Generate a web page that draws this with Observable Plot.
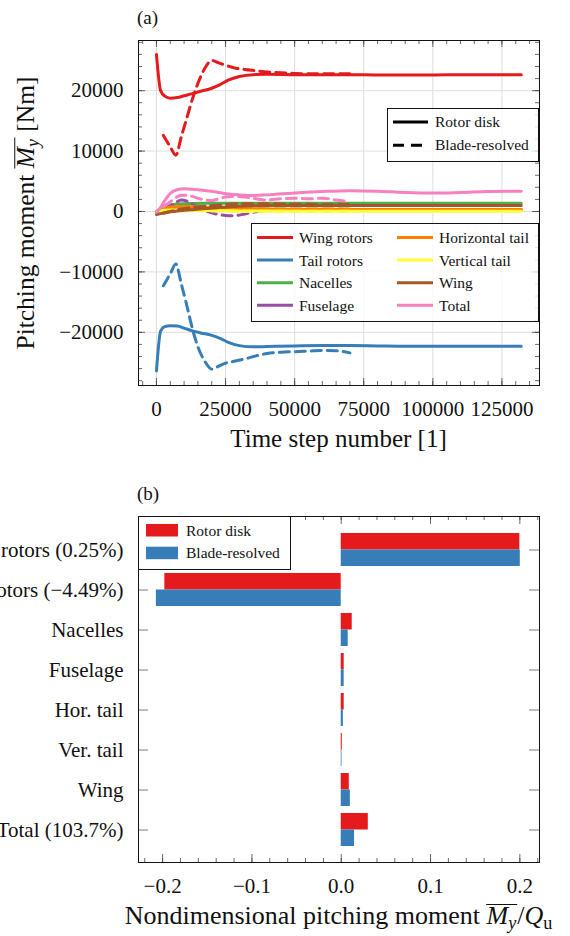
<!DOCTYPE html>
<html>
<head>
<meta charset="utf-8">
<script src="https://cdn.jsdelivr.net/npm/d3@7"></script>
<script src="https://cdn.jsdelivr.net/npm/@observablehq/plot@0.6"></script>
<style>
  html, body { margin: 0; padding: 0; background: #fff; }
  #fig { position: relative; width: 570px; height: 936px; overflow: hidden;
         font-family: "Liberation Serif", "Times New Roman", serif; color: #111; }
  #fig > svg { position: absolute; left: 0; }
  .lbl { position: absolute; white-space: nowrap; line-height: 1; }
  .ov { display: inline-block; border-top: 1.4px solid currentColor; line-height: 0.84; padding-right: 1px; }
  .sb { font-size: 0.7em; position: relative; top: 0.3em; }
</style>
</head>
<body>
<div id="fig"></div>
<script>
// ---------- (a) pitching moment history ----------
const components = ["Wing rotors", "Tail rotors", "Nacelles", "Fuselage",
                    "Horizontal tail", "Vertical tail", "Wing", "Total"];
const componentColors = ["#e41a1c", "#377eb8", "#4daf4a", "#984ea3",
                         "#ff7f00", "#ffff33", "#a65628", "#f781bf"];

// rotor disk runs
const stepsRD = [0, 1500, 3000, 5000, 7500, 10000, 13000, 16000, 20000, 23000, 26000, 30000,
                 35000, 40000, 50000, 60000, 70000, 80000, 90000, 100000, 110000, 120000, 132000];
const wingRotorsRD = [26000, 20000, 19100, 18750, 18850, 19150, 19500, 19900, 20400, 21000, 21750, 22350,
                      22650, 22700, 22650, 22650, 22650, 22600, 22600, 22600, 22650, 22650, 22650];
const tailRotorsRD = [-26400, -19800, -19050, -18900, -18950, -19300, -19750, -20100, -20500, -21000, -21650, -22200,
                      -22400, -22350, -22250, -22200, -22200, -22250, -22300, -22300, -22300, -22300, -22300];
const nacellesRD = [0, 450, 850, 1100, 1250, 1300, 1330, 1350, 1350, 1350, 1350, 1350,
                    1350, 1350, 1360, 1370, 1370, 1370, 1370, 1370, 1370, 1370, 1370];
const fuselageRD = [0, 150, 250, 300, 350, 380, 400, 400, 390, 380, 370, 360,
                    350, 350, 350, 350, 350, 350, 350, 350, 350, 350, 350];
const horTailRD = [0, 300, 550, 700, 780, 800, 780, 740, 680, 620, 560, 500,
                   440, 400, 370, 360, 350, 350, 350, 350, 350, 350, 350];
const verTailRD = [0, 120, 200, 240, 250, 240, 220, 190, 160, 130, 110, 90,
                   80, 70, 60, 60, 60, 60, 60, 60, 60, 60, 60];
const wingRD = [-500, -350, -200, -50, 100, 200, 300, 400, 550, 650, 750, 850,
                930, 980, 1000, 1010, 1010, 1010, 1010, 1010, 1010, 1010, 1010];
const totalRD = [-100, 700, 1800, 3000, 3600, 3750, 3700, 3550, 3350, 3100, 2900, 2750,
                 2650, 2750, 3050, 3300, 3450, 3350, 3150, 3050, 3150, 3300, 3350];

// blade-resolved runs
const stepsBR = [2500, 5000, 7000, 9000, 11000, 13000, 15000, 17500, 20000, 22500, 25000,
                 28000, 32000, 36000, 40000, 45000, 50000, 55000, 60000, 65000, 70000];
const wingRotorsBR = [12600, 10700, 9300, 12400, 15500, 18600, 21200, 23700, 25000, 24600, 24200,
                      23800, 23500, 23300, 23100, 22950, 22850, 22800, 22800, 22800, 22800];
const tailRotorsBR = [-12300, -10300, -8700, -12000, -15600, -19400, -22400, -24800, -26100, -25600, -25100,
                      -24800, -24400, -23900, -23500, -23300, -23200, -23100, -23000, -23050, -23400];
const nacellesBR = [300, 600, 800, 850, 880, 900, 900, 900, 900, 900, 900,
                    900, 900, 900, 900, 900, 900, 900, 900, 900, 900];
const fuselageBR = [400, 900, 1500, 1900, 1700, 1200, 700, 200, -200, -500, -650,
                    -700, -400, -50, 100, 200, 250, 300, 300, 300, 300];
const horTailBR = [300, 600, 750, 800, 780, 720, 650, 580, 500, 450, 400,
                   340, 300, 270, 250, 240, 230, 230, 230, 230, 230];
const verTailBR = [100, 150, 150, 140, 130, 120, 110, 100, 90, 80, 70,
                   60, 60, 60, 60, 60, 60, 60, 60, 60, 60];
const wingBR = [-300, 0, 250, 400, 550, 650, 750, 850, 950, 1050, 1150,
                1250, 1300, 1300, 1300, 1250, 1200, 1200, 1150, 1150, 1150];
const totalBR = [800, 1600, 2300, 2700, 2700, 2500, 2200, 1900, 1800, 2100, 2400,
                 2500, 2400, 2100, 1900, 2100, 2200, 2100, 2200, 1900, 1600];

const seriesRD = [wingRotorsRD, tailRotorsRD, nacellesRD, fuselageRD, horTailRD, verTailRD, wingRD, totalRD];
const seriesBR = [wingRotorsBR, tailRotorsBR, nacellesBR, fuselageBR, horTailBR, verTailBR, wingBR, totalBR];

const stepTicks = [0, 25000, 50000, 75000, 100000, 125000];
const stepMinorTicks = d3.range(-5000, 138001, 5000);
const momentTicks = [-20000, -10000, 0, 10000, 20000];
const momentMinorTicks = d3.range(-28000, 28001, 2000);

// ---------- (b) nondimensional contributions ----------
const barLabels = ["Wing rotors (0.25%)", "Tail rotors (\u22124.49%)", "Nacelles", "Fuselage",
                   "Hor. tail", "Ver. tail", "Wing", "Total (103.7%)"];
const nondimRotorDisk = [0.2000, -0.1975, 0.0123, 0.0033, 0.0033, 0.0012, 0.0090, 0.0303];
const nondimBladeResolved = [0.2005, -0.2070, 0.0078, 0.0033, 0.0024, 0.0008, 0.0102, 0.0149];
const nondimTicks = [-0.2, -0.1, 0, 0.1, 0.2];
const nondimMinorTicks = d3.range(-22, 23, 2).map(v => v / 100);

const runNames = ["Rotor disk", "Blade-resolved"];
const runColors = ["#e41a1c", "#377eb8"];

// ---------- helpers ----------
const fmtInt = d => (d < 0 ? "\u2212" : "") + Math.abs(d);
const fmtDec = d => (d < 0 ? "\u2212" : "") + Math.abs(d).toFixed(1);
const tickColor = "#444";
const fig = document.getElementById("fig");
const W = 570;

// inward tick marks on all four sides of a frame
function frameTicks(xs, ys, frameW, frameH, len, stroke, band = false) {
  const marks = [];
  if (xs) {
    marks.push(Plot.tickX(xs, {x: d => d, insetTop: frameH - len, stroke, strokeWidth: 0.8}));
    marks.push(Plot.tickX(xs, {x: d => d, insetBottom: frameH - len, stroke, strokeWidth: 0.8}));
  }
  if (ys) {
    const w = band ? 1.3 : 0.8;
    marks.push(Plot.tickY(ys, {y: d => d, insetRight: frameW - len, stroke, strokeWidth: w}));
    marks.push(Plot.tickY(ys, {y: d => d, insetLeft: frameW - len, stroke, strokeWidth: w}));
  }
  return marks;
}

// ---------- top chart ----------
const topH = 470, topMt = 40, topMb = 85, topMl = 138, topMr = 31;
const topFW = W - topMl - topMr, topFH = topH - topMt - topMb;

const lineMarks = [];
components.forEach((name, k) => {
  lineMarks.push(Plot.line(seriesRD[k], {x: stepsRD, y: seriesRD[k], stroke: componentColors[k],
    strokeWidth: 3, curve: "monotone-x"}));
  lineMarks.push(Plot.line(seriesBR[k], {x: stepsBR, y: seriesBR[k], stroke: componentColors[k],
    strokeWidth: 3, strokeDasharray: "10,6", curve: "monotone-x"}));
});

const topPlot = Plot.plot({
  width: W, height: topH,
  marginTop: topMt, marginBottom: topMb, marginLeft: topMl, marginRight: topMr,
  style: {fontFamily: "Liberation Serif", fontSize: "21px", color: "#111", background: "transparent"},
  x: {domain: [-6500, 138600]},
  y: {domain: [-28800, 28300]},
  marks: [
    Plot.gridX(stepTicks, {stroke: "#dedede", strokeOpacity: 1}),
    Plot.gridY(momentTicks, {stroke: "#dedede", strokeOpacity: 1}),
    ...lineMarks,
    ...frameTicks(stepMinorTicks, momentMinorTicks, topFW, topFH, 4, tickColor),
    ...frameTicks(stepTicks, momentTicks, topFW, topFH, 7, tickColor),
    Plot.axisX(stepTicks, {tickSize: 0, tickPadding: 16, tickFormat: fmtInt, label: null}),
    Plot.axisY(momentTicks, {tickSize: 0, tickPadding: 15, tickFormat: fmtInt, label: null}),
    Plot.frame({stroke: "#111"})
  ]
});
topPlot.style.top = "0px";
fig.appendChild(topPlot);

// ---------- bottom chart ----------
const botTop = 470;
const botH = 466, botMt = 46, botMb = 74, botMl = 138, botMr = 31;
const botFW = W - botMl - botMr, botFH = botH - botMt - botMb;
const padIn = 0.175, padOut = 0.4125;
const bandStep = botFH / (barLabels.length - padIn + 2 * padOut);
const halfBand = bandStep * (1 - padIn) / 2;

const barRows = barLabels.map((label, i) => ({
  label, rotorDisk: nondimRotorDisk[i], bladeResolved: nondimBladeResolved[i]
}));

const botPlot = Plot.plot({
  width: W, height: botH,
  marginTop: botMt, marginBottom: botMb, marginLeft: botMl, marginRight: botMr,
  style: {fontFamily: "Liberation Serif", fontSize: "21px", color: "#111", background: "transparent", overflow: "visible"},
  x: {domain: [-0.227, 0.222]},
  y: {domain: barLabels, paddingInner: padIn, paddingOuter: padOut},
  marks: [
    Plot.barX(barRows, {y: "label", x1: 0, x2: "rotorDisk", fill: runColors[0], insetBottom: halfBand}),
    Plot.barX(barRows, {y: "label", x1: 0, x2: "bladeResolved", fill: runColors[1], insetTop: halfBand}),
    ...frameTicks(nondimMinorTicks, null, botFW, botFH, 4, tickColor),
    ...frameTicks(nondimTicks, null, botFW, botFH, 8, tickColor),
    ...frameTicks(null, barLabels, botFW, botFH, 10, "#9a9a9a", true),
    Plot.axisX(nondimTicks, {tickSize: 0, tickPadding: 16, tickFormat: fmtDec, label: null}),
    Plot.axisY(barLabels, {tickSize: 0, tickPadding: 15, label: null}),
    Plot.frame({stroke: "#111"})
  ]
});
botPlot.style.top = botTop + "px";
fig.appendChild(botPlot);

// ---------- legends ----------
const ov = d3.select(fig).append("svg")
  .attr("width", W).attr("height", 936)
  .style("top", "0px")
  .style("font-family", "Liberation Serif")
  .style("font-size", "15.5px")
  .style("pointer-events", "none");

// run style legend (line pattern)
const leg1 = ov.append("g");
leg1.append("rect").attr("x", 387.5).attr("y", 108.5).attr("width", 151).attr("height", 53)
  .attr("fill", "white").attr("fill-opacity", 0.8).attr("stroke", "#111");
runNames.forEach((name, i) => {
  const y = 122 + i * 23.3;
  leg1.append("line").attr("x1", 393).attr("x2", 428).attr("y1", y).attr("y2", y)
    .attr("stroke", "#000").attr("stroke-width", 3)
    .attr("stroke-dasharray", i === 1 ? "11,7" : null);
  leg1.append("text").attr("x", 435).attr("y", y + 5).attr("fill", "#111").text(name);
});

// component legend
const leg2 = ov.append("g");
leg2.append("rect").attr("x", 251.5).attr("y", 223.5).attr("width", 287).attr("height", 98)
  .attr("fill", "white").attr("fill-opacity", 0.8).attr("stroke", "#111");
components.forEach((name, i) => {
  const col = Math.floor(i / 4), row = i % 4;
  const x0 = 257 + col * 140, y = 237.5 + row * 22.6;
  leg2.append("line").attr("x1", x0).attr("x2", x0 + 36).attr("y1", y).attr("y2", y)
    .attr("stroke", componentColors[i]).attr("stroke-width", 3);
  leg2.append("text").attr("x", x0 + 42).attr("y", y + 5.5).attr("fill", "#111").text(name);
});

// bar legend
const leg3 = ov.append("g");
leg3.append("rect").attr("x", 138.5).attr("y", 516.5).attr("width", 152).attr("height", 53)
  .attr("fill", "white").attr("stroke", "#111");
runNames.forEach((name, i) => {
  const y = 524 + i * 22.7;
  leg3.append("rect").attr("x", 146).attr("y", y).attr("width", 32).attr("height", 12.5)
    .attr("fill", runColors[i]);
  leg3.append("text").attr("x", 186).attr("y", y + 11.7).attr("fill", "#111").text(name);
});

// ---------- titles and axis labels ----------
function label(html, css) {
  const el = document.createElement("div");
  el.className = "lbl";
  el.innerHTML = html;
  Object.assign(el.style, css);
  fig.appendChild(el);
  return el;
}
const momentSymbol = '<span class="ov"><i>M</i><span class="sb"><i>y</i></span></span>';
label("(a)", {left: "137px", top: "8px", fontSize: "19px"});
label("(b)", {left: "137px", top: "484px", fontSize: "19px"});
label("Time step number [1]", {left: (topMl + topFW / 2) + "px", top: "426px", fontSize: "25px",
  transform: "translateX(-50%)"});
label("Pitching moment " + momentSymbol + " [Nm]",
  {left: "26px", top: (topMt + topFH / 2) + "px", fontSize: "25.5px",
   transform: "translate(-50%, -50%) rotate(-90deg)"});
label("Nondimensional pitching moment " + momentSymbol + "/<i>Q</i><span class=\"sb\">u</span>",
  {left: (botMl + botFW / 2) + "px", top: "903px", fontSize: "26px", transform: "translateX(-50%)"});
</script>
</body>
</html>
